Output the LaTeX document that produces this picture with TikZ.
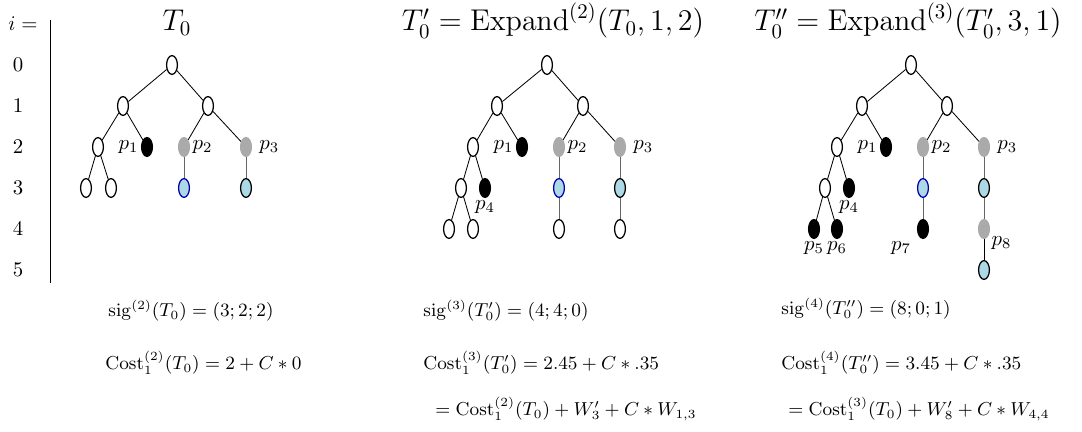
\documentclass[tikz,border=0pt]{standalone}
\usepackage{amsmath, amssymb}
\usepackage{tikz}
\usetikzlibrary{shapes.geometric}
\definecolor{leafblue}{RGB}{173,216,230}
\definecolor{ptgray}{RGB}{170,170,170}

\begin{document}
\begin{tikzpicture}[x=0.48pt,y=0.48pt,
    vx/.style={ellipse,draw=black,line width=0.6pt,fill=white,inner sep=0pt,minimum width=5.2pt,minimum height=9pt},
    bx/.style={vx,fill=black},
    gx/.style={vx,draw=ptgray,fill=ptgray},
    lx/.style={vx,fill=leafblue},
    lbx/.style={vx,draw=blue!70!black,fill=leafblue},
    lab/.style={inner sep=1pt},
    ttl/.style={anchor=base,font=\fontsize{13.9}{17}\selectfont},
    txt/.style={anchor=base west,inner sep=0pt,font=\fontsize{9.2}{11}\selectfont}]
        \def\yo{367}
        \def\dy{41}
        \useasboundingbox (0,0) rectangle (1082,432);
        % levels
        \node[anchor=base] (ieq) at (23,401) {$i=$};
        \foreach \i in {0,...,5}
            \node (lev\i) at (18,{\yo-\i*\dy}) {$\i$};
        \draw (50,412) -- (50,149);
        % titles
        \node[ttl] (tA) at (177,401) {$T_0$};
        \node[ttl] (tB) at (553,401) {$T_0'=\mathrm{Expand}^{(2)}(T_0,1,2)$};
        \node[ttl] (tC) at (908,401) {$T_0''=\mathrm{Expand}^{(3)}(T_0',3,1)$};
        % first tree
        \begin{scope}[shift={(172,0)}]
            \node[vx] (A00) at (0,\yo) {};
            \node[vx] (A10) at (-49,\yo-\dy) {};
            \node[vx] (A11) at (36,\yo-\dy) {};
            \node[vx] (A20) at (-74,\yo-2*\dy) {};
            \node[bx,label={[lab]left:$p_1$}] (A21) at (-25,\yo-2*\dy) {};
            \node[gx,label={[lab]right:$p_2$}] (A22) at (12,\yo-2*\dy) {};
            \node[gx,label=right:$p_3$] (A23) at (74,\yo-2*\dy) {};
            \node[vx] (A30) at (-86,\yo-3*\dy) {};
            \node[vx] (A31) at (-61,\yo-3*\dy) {};
            \node[lbx] (A32) at (12,\yo-3*\dy) {};
            \node[lx] (A33) at (74,\yo-3*\dy) {};
            \draw (A00) -- (A10) (A00) -- (A11);
            \draw (A10) -- (A20) (A10) -- (A21) (A11) -- (A22) (A11) -- (A23);
            \draw (A20) -- (A30) (A20) -- (A31);
            \draw[black!60] (A22) -- (A32) (A23) -- (A33);
        \end{scope}
        % second tree
        \begin{scope}[shift={(547,0)}]
            \node[vx] (B00) at (0,\yo) {};
            \node[vx] (B10) at (-50,\yo-\dy) {};
            \node[vx] (B11) at (36,\yo-\dy) {};
            \node[vx] (B20) at (-74,\yo-2*\dy) {};
            \node[bx,label={[lab]left:$p_1$}] (B21) at (-25,\yo-2*\dy) {};
            \node[gx,label={[lab]right:$p_2$}] (B22) at (12,\yo-2*\dy) {};
            \node[gx,label=right:$p_3$] (B23) at (73,\yo-2*\dy) {};
            \node[vx] (B30) at (-86,\yo-3*\dy) {};
            \node[bx,label={[lab]below:$p_4$}] (B31) at (-62,\yo-3*\dy) {};
            \node[lbx] (B32) at (12,\yo-3*\dy) {};
            \node[lx] (B33) at (73,\yo-3*\dy) {};
            \node[vx] (B40) at (-98,\yo-4*\dy) {};
            \node[vx] (B41) at (-74,\yo-4*\dy) {};
            \node[vx] (B42) at (12,\yo-4*\dy) {};
            \node[vx] (B43) at (73,\yo-4*\dy) {};
            \draw (B00) -- (B10) (B00) -- (B11);
            \draw (B10) -- (B20) (B10) -- (B21) (B11) -- (B22) (B11) -- (B23);
            \draw (B20) -- (B30) (B20) -- (B31) (B30) -- (B40) (B30) -- (B41);
            \draw[black!60] (B22) -- (B32) -- (B42) (B23) -- (B33) -- (B43);
        \end{scope}
        % third tree
        \begin{scope}[shift={(911,0)}]
            \node[vx] (C00) at (0,\yo) {};
            \node[vx] (C10) at (-49,\yo-\dy) {};
            \node[vx] (C11) at (36,\yo-\dy) {};
            \node[vx] (C20) at (-74,\yo-2*\dy) {};
            \node[bx,label={[lab]left:$p_1$}] (C21) at (-25,\yo-2*\dy) {};
            \node[gx,label={[lab]right:$p_2$}] (C22) at (12,\yo-2*\dy) {};
            \node[gx,label=right:$p_3$] (C23) at (73,\yo-2*\dy) {};
            \node[vx] (C30) at (-86,\yo-3*\dy) {};
            \node[bx,label={[lab]below:$p_4$}] (C31) at (-62,\yo-3*\dy) {};
            \node[lbx] (C32) at (12,\yo-3*\dy) {};
            \node[lx] (C33) at (73,\yo-3*\dy) {};
            \node[bx,label={[lab]below:$p_5$}] (C40) at (-97,\yo-4*\dy) {};
            \node[bx,label={[lab]below:$p_6$}] (C41) at (-74,\yo-4*\dy) {};
            \node[bx,label={[lab,label distance=3pt]below left:$p_7$}] (C42) at (12,\yo-4*\dy) {};
            \node[gx,label={[lab]below right:$p_8$}] (C43) at (73,\yo-4*\dy) {};
            \node[lx] (C50) at (73,\yo-5*\dy) {};
            \draw (C00) -- (C10) (C00) -- (C11);
            \draw (C10) -- (C20) (C10) -- (C21) (C11) -- (C22) (C11) -- (C23);
            \draw (C20) -- (C30) (C20) -- (C31) (C30) -- (C40) (C30) -- (C41);
            \draw[black!60] (C22) -- (C32) -- (C42) (C23) -- (C33) -- (C43);
            \draw (C43) -- (C50);
        \end{scope}
        % signatures and costs
        \node[txt] (sA) at (108,115) {$\mathrm{sig}^{(2)}(T_0)=(3;2;2)$};
        \node[txt] (cA) at (105,62) {$\mathrm{Cost}_1^{(2)}(T_0)=2+C*0$};
        \node[txt] (sB) at (423,115) {$\mathrm{sig}^{(3)}(T_0')=(4;4;0)$};
        \node[txt] (cB) at (423,62) {$\mathrm{Cost}_1^{(3)}(T_0')=2.45+C*.35$};
        \node[txt] (dB) at (435,16) {$=\mathrm{Cost}_1^{(2)}(T_0)+W_3'+C*W_{1,3}$};
        \node[txt] (sC) at (781,117) {$\mathrm{sig}^{(4)}(T_0'')=(8;0;1)$};
        \node[txt] (cC) at (781,62) {$\mathrm{Cost}_1^{(4)}(T_0'')=3.45+C*.35$};
        \node[txt] (dC) at (788,16) {$=\mathrm{Cost}_1^{(3)}(T_0)+W_8'+C*W_{4,4}$};
\end{tikzpicture}
\end{document}
